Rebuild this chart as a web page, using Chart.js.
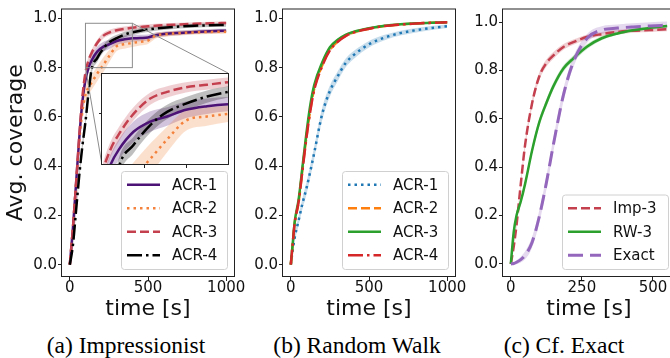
<!DOCTYPE html>
<html>
<head>
<meta charset="utf-8">
<script src="https://cdn.jsdelivr.net/npm/chart.js@4.4.1/dist/chart.umd.min.js"></script>
<style>
  body { margin: 0; background: #fff; }
  #page { position: relative; width: 670px; height: 358px; overflow: hidden; background: #fff; }
  canvas { position: absolute; }
  .caption { position: absolute; top: 333px; width: 240px; height: 24px; line-height: 24px; text-align: center;
             font-family: 'Liberation Serif', serif; font-size: 23.5px; color: #000; white-space: nowrap; }
</style>
</head>
<body>
<div id="page">
  <canvas id="impChart" width="250" height="322" style="left:0px;top:0px"></canvas>
  <canvas id="impInset" width="132" height="97" style="left:98px;top:72px"></canvas>
  <canvas id="rwChart" width="250" height="322" style="left:222px;top:0px"></canvas>
  <canvas id="cfChart" width="250" height="322" style="left:442px;top:0px"></canvas>
  <div class="caption" style="left:6px">(a) Impressionist</div>
  <div class="caption" style="left:237px">(b) Random Walk</div>
  <div class="caption" style="left:444px">(c) Cf. Exact</div>
</div>
<script>
Chart.defaults.font.family = 'DejaVu Sans';
Chart.defaults.color = '#111';

// (a) Impressionist
var impTime = [0, 20, 40, 60, 80, 100, 120, 140, 175, 215, 255, 300, 350, 400, 450, 500, 550, 600, 700, 800, 900, 1000];
var impAcr1 = [0, 0.15, 0.33, 0.51, 0.66, 0.75, 0.80, 0.83, 0.865, 0.885, 0.895, 0.908, 0.915, 0.919, 0.92, 0.922, 0.932, 0.936, 0.941, 0.945, 0.948, 0.95];
var impAcr1Sd = [0, 0.01, 0.015, 0.02, 0.02, 0.02, 0.02, 0.02, 0.02, 0.02, 0.018, 0.016, 0.015, 0.014, 0.013, 0.012, 0.011, 0.01, 0.01, 0.009, 0.009, 0.008];
var impAcr2 = [0, 0.15, 0.33, 0.50, 0.62, 0.69, 0.72, 0.74, 0.775, 0.812, 0.85, 0.887, 0.895, 0.90, 0.905, 0.91, 0.93, 0.935, 0.94, 0.943, 0.945, 0.946];
var impAcr2Sd = [0, 0.01, 0.015, 0.02, 0.025, 0.03, 0.03, 0.03, 0.03, 0.03, 0.025, 0.02, 0.018, 0.016, 0.015, 0.014, 0.012, 0.011, 0.01, 0.009, 0.009, 0.008];
var impAcr3 = [0, 0.15, 0.33, 0.52, 0.68, 0.78, 0.83, 0.86, 0.90, 0.93, 0.943, 0.952, 0.957, 0.962, 0.965, 0.968, 0.97, 0.972, 0.975, 0.978, 0.98, 0.981];
var impAcr3Sd = [0, 0.01, 0.012, 0.015, 0.015, 0.015, 0.015, 0.014, 0.013, 0.012, 0.011, 0.01, 0.01, 0.009, 0.009, 0.008, 0.008, 0.007, 0.007, 0.006, 0.006, 0.006];
var impAcr4 = [0, 0.08, 0.22, 0.36, 0.48, 0.58, 0.70, 0.795, 0.839, 0.878, 0.904, 0.92, 0.934, 0.943, 0.95, 0.955, 0.959, 0.962, 0.967, 0.97, 0.972, 0.973];
var impAcr4Sd = [0, 0.01, 0.015, 0.02, 0.02, 0.02, 0.02, 0.018, 0.016, 0.015, 0.014, 0.013, 0.012, 0.011, 0.01, 0.01, 0.009, 0.009, 0.008, 0.008, 0.007, 0.007];

// (b) Random Walk
var rwTime = [0, 10, 25, 50, 75, 100, 125, 150, 200, 250, 300, 350, 400, 500, 600, 700, 800, 900, 1000];
var rwAcr1 = [0, 0.05, 0.11, 0.18, 0.25, 0.31, 0.38, 0.455, 0.61, 0.705, 0.765, 0.818, 0.85, 0.895, 0.922, 0.94, 0.952, 0.961, 0.968];
var rwAcr1Sd = [0, 0.01, 0.015, 0.02, 0.022, 0.025, 0.025, 0.025, 0.025, 0.022, 0.02, 0.018, 0.016, 0.013, 0.011, 0.01, 0.009, 0.008, 0.007];
var rwAcr2 = [0, 0.07, 0.17, 0.255, 0.39, 0.52, 0.63, 0.715, 0.808, 0.872, 0.907, 0.929, 0.943, 0.958, 0.969, 0.975, 0.979, 0.982, 0.984];
var rwAcr2Sd = [0, 0.005, 0.008, 0.01, 0.01, 0.01, 0.01, 0.01, 0.009, 0.008, 0.007, 0.006, 0.006, 0.005, 0.004, 0.004, 0.003, 0.003, 0.003];
var rwAcr3 = [0, 0.07, 0.175, 0.265, 0.40, 0.535, 0.65, 0.73, 0.82, 0.883, 0.913, 0.933, 0.945, 0.96, 0.97, 0.976, 0.98, 0.982, 0.984];
var rwAcr3Sd = [0, 0.005, 0.008, 0.01, 0.01, 0.01, 0.01, 0.009, 0.008, 0.007, 0.006, 0.005, 0.005, 0.004, 0.004, 0.003, 0.003, 0.003, 0.003];
var rwAcr4 = [0, 0.07, 0.17, 0.255, 0.385, 0.515, 0.625, 0.71, 0.805, 0.87, 0.905, 0.928, 0.942, 0.958, 0.969, 0.975, 0.979, 0.982, 0.984];
var rwAcr4Sd = [0, 0.005, 0.008, 0.01, 0.011, 0.011, 0.011, 0.01, 0.009, 0.008, 0.007, 0.006, 0.006, 0.005, 0.004, 0.004, 0.003, 0.003, 0.003];

// (c) Cf. Exact
var cfTime = [0, 10, 20, 35, 50, 75, 100, 125, 150, 185, 220, 270, 320, 375, 430, 490, 550];
var cfImp3 = [0, 0.07, 0.16, 0.33, 0.49, 0.665, 0.775, 0.83, 0.862, 0.897, 0.917, 0.939, 0.95, 0.959, 0.964, 0.967, 0.97];
var cfImp3Sd = [0, 0.01, 0.012, 0.015, 0.016, 0.016, 0.016, 0.015, 0.014, 0.012, 0.011, 0.01, 0.009, 0.009, 0.008, 0.008, 0.008];
var cfRw3 = [0, 0.13, 0.2, 0.258, 0.33, 0.47, 0.585, 0.665, 0.735, 0.808, 0.85, 0.9, 0.933, 0.953, 0.966, 0.976, 0.984];
var cfRw3Sd = [0, 0.01, 0.012, 0.014, 0.015, 0.016, 0.016, 0.016, 0.015, 0.013, 0.012, 0.01, 0.008, 0.007, 0.006, 0.006, 0.005];
var cfExact = [0, 0.002, 0.007, 0.018, 0.035, 0.09, 0.195, 0.335, 0.495, 0.698, 0.835, 0.935, 0.967, 0.975, 0.98, 0.984, 0.987];
var cfExactSd = [0, 0.004, 0.008, 0.012, 0.016, 0.022, 0.026, 0.028, 0.028, 0.026, 0.022, 0.018, 0.016, 0.015, 0.015, 0.015, 0.015];

// ticks
var yTicks = [0, 0.2, 0.4, 0.6, 0.8, 1.0];
var longTicksX = [0, 500, 1000];
var cfTicksX = [0, 250, 500];
var insetRangeX = [100, 400];
var insetRangeY = [0.8, 0.98];
var insetTicksX = [200, 300];
var insetTicksY = [0.9];

// inset box on the page (px), used for the connector lines
var INSET = { left: 102, top: 73, right: 228, bottom: 165 };

var SOLID = [], DOTTED = [2.5, 4], DASHED = [9, 4], DASHDOT = [15, 4, 2.5, 4], LONGDASH = [15, 7];

function toRgba(hex, a) {
    var n = parseInt(hex.slice(1), 16);
    return 'rgba(' + (n >> 16) + ',' + ((n >> 8) & 255) + ',' + (n & 255) + ',' + a + ')';
}

function pts(time, vals, off, sign) {
    return time.map(function (t, i) { return { x: t, y: vals[i] + (off ? sign * off[i] : 0) }; });
}

// line + shaded band (upper fills to lower)
function series(label, time, mean, sd, color, dash, width, rank) {
    return [
        {
            label: label, data: pts(time, mean), borderColor: color, borderDash: dash, borderWidth: width,
            borderCapStyle: 'butt', pointRadius: 0, fill: false, cubicInterpolationMode: 'monotone', order: -rank,
        },
        {
            data: pts(time, mean, sd, 1), borderColor: 'transparent', borderWidth: 0, pointRadius: 0,
            fill: '+1', backgroundColor: toRgba(color, 0.25), cubicInterpolationMode: 'monotone', order: 50 - rank,
        },
        {
            data: pts(time, mean, sd, -1), borderColor: 'transparent', borderWidth: 0, pointRadius: 0,
            fill: false, cubicInterpolationMode: 'monotone', order: 50 - rank,
        },
    ];
}

var frame = {
    id: 'frame',
    afterDatasetsDraw: function (chart) {
        var a = chart.chartArea, ctx = chart.ctx;
        ctx.save();
        ctx.strokeStyle = '#222';
        ctx.lineWidth = 1;
        ctx.strokeRect(a.left - 0.5, a.top + 0.5, a.right - a.left + 1, a.bottom - a.top - 1);
        ctx.restore();
    }
};

var whiteArea = {
    id: 'whiteArea',
    beforeDraw: function (chart) {
        var a = chart.chartArea;
        chart.ctx.save();
        chart.ctx.fillStyle = '#fff';
        chart.ctx.fillRect(a.left, a.top, a.right - a.left, a.bottom - a.top);
        chart.ctx.restore();
    }
};

var boxLegend = {
    id: 'boxLegend',
    afterDraw: function (chart) {
        var items = chart.data.datasets.filter(function (d) { return d.label; });
        var a = chart.chartArea, ctx = chart.ctx;
        var w = 106, rowH = 23.5, h = items.length * rowH + 4;
        var right = a.right - 7, bottom = a.bottom - 8, left = right - w, top = bottom - h;
        ctx.save();
        ctx.beginPath();
        ctx.roundRect(left + 0.5, top + 0.5, w, h, 3);
        ctx.fillStyle = 'rgba(255,255,255,0.8)';
        ctx.fill();
        ctx.strokeStyle = '#d0d0d0';
        ctx.lineWidth = 1;
        ctx.stroke();
        items.forEach(function (d, i) {
            var y = top + 2 + rowH * (i + 0.5);
            ctx.beginPath();
            ctx.setLineDash(d.borderDash);
            ctx.lineCap = 'butt';
            ctx.strokeStyle = d.borderColor;
            ctx.lineWidth = d.borderWidth;
            ctx.moveTo(left + 6, y);
            ctx.lineTo(left + 39, y);
            ctx.stroke();
            ctx.setLineDash([]);
            ctx.fillStyle = '#111';
            ctx.font = '15px "DejaVu Sans"';
            ctx.textBaseline = 'middle';
            ctx.fillText(d.label, left + 51, y + 1);
        });
        ctx.restore();
    }
};

var zoomMark = {
    id: 'zoomMark',
    afterDatasetsDraw: function (chart) {
        var xs = chart.scales.x, ys = chart.scales.y, ctx = chart.ctx;
        var x1 = xs.getPixelForValue(insetRangeX[0]), x2 = xs.getPixelForValue(insetRangeX[1]);
        var yTop = ys.getPixelForValue(insetRangeY[1]), yBot = ys.getPixelForValue(insetRangeY[0]);
        ctx.save();
        ctx.strokeStyle = '#8c8c8c';
        ctx.lineWidth = 1;
        ctx.strokeRect(x1, yTop, x2 - x1, yBot - yTop);
        ctx.beginPath();
        ctx.moveTo(x2, yTop);
        ctx.lineTo(INSET.right, INSET.top);
        ctx.moveTo(x1, yBot);
        ctx.lineTo(INSET.left, INSET.bottom);
        ctx.stroke();
        ctx.restore();
    }
};

function scales(xMin, xMax, xTicks, yTitle) {
    return {
        x: {
            type: 'linear', min: xMin, max: xMax,
            afterBuildTicks: function (s) { s.ticks = xTicks.map(function (v) { return { value: v }; }); },
            afterFit: function (s) { s.height = 45; },
            grid: { drawOnChartArea: false, tickLength: 4, color: '#222', tickColor: '#222' },
            border: { display: false },
            ticks: {
                padding: 0, maxRotation: 0, autoSkip: false, font: { size: 15, lineHeight: 1 }, color: '#111',
                callback: function (v) { return String(v); },
            },
            title: { display: true, text: 'time [s]', font: { size: 22, lineHeight: 1.2 }, padding: 0, color: '#111' },
        },
        y: {
            min: -0.05, max: 1.04,
            afterBuildTicks: function (s) { s.ticks = yTicks.map(function (v) { return { value: v }; }); },
            afterFit: function (s) { s.width = yTitle ? 62 : 61; },
            grid: { drawOnChartArea: false, tickLength: 4, color: '#222', tickColor: '#222' },
            border: { display: false },
            ticks: {
                padding: 1, autoSkip: false, font: { size: 15, lineHeight: 1 }, color: '#111',
                callback: function (v) { return v.toFixed(1); },
            },
            title: {
                display: !!yTitle, text: yTitle, font: { size: 22, lineHeight: 1.2 },
                padding: { top: 3, bottom: 0 }, color: '#111',
            },
        },
    };
}

var baseOptions = function (sc) {
    return {
        responsive: false, animation: false, devicePixelRatio: 1, events: [],
        layout: { padding: { left: 0, top: 8, right: 16, bottom: 0 } },
        plugins: { legend: { display: false }, tooltip: { enabled: false } },
        scales: sc,
    };
};

var impSets = [].concat(
    series('ACR-1', impTime, impAcr1, impAcr1Sd, '#4c1275', SOLID, 2.5, 0),
    series('ACR-2', impTime, impAcr2, impAcr2Sd, '#f4823c', DOTTED, 2.5, 1),
    series('ACR-3', impTime, impAcr3, impAcr3Sd, '#c4404f', DASHED, 2.5, 2),
    series('ACR-4', impTime, impAcr4, impAcr4Sd, '#000000', DASHDOT, 2.5, 3)
);

new Chart(document.getElementById('impChart'), {
    type: 'line',
    data: { datasets: impSets },
    options: baseOptions(scales(-50, 1050, longTicksX, 'Avg. coverage')),
    plugins: [frame, zoomMark, boxLegend],
});

// inset: same curves, zoomed window
var insetSets = [].concat(
    series(null, impTime, impAcr1, impAcr1Sd, '#4c1275', SOLID, 2.5, 0),
    series(null, impTime, impAcr2, impAcr2Sd, '#f4823c', DOTTED, 2.5, 1),
    series(null, impTime, impAcr3, impAcr3Sd, '#c4404f', DASHED, 2.5, 2),
    series(null, impTime, impAcr4, impAcr4Sd, '#000000', DASHDOT, 2.5, 3)
);

new Chart(document.getElementById('impInset'), {
    type: 'line',
    data: { datasets: insetSets },
    options: {
        responsive: false, animation: false, devicePixelRatio: 1, events: [],
        layout: { padding: { left: 0, top: 1, right: 2, bottom: 0 } },
        plugins: { legend: { display: false }, tooltip: { enabled: false } },
        scales: {
            x: {
                type: 'linear', min: insetRangeX[0], max: insetRangeX[1],
                afterBuildTicks: function (s) { s.ticks = insetTicksX.map(function (v) { return { value: v }; }); },
                afterFit: function (s) { s.height = 4; },
                grid: { drawOnChartArea: false, tickLength: 3, color: '#222', tickColor: '#222' },
                border: { display: false },
                ticks: { display: false },
            },
            y: {
                min: insetRangeY[0], max: insetRangeY[1],
                afterBuildTicks: function (s) { s.ticks = insetTicksY.map(function (v) { return { value: v }; }); },
                afterFit: function (s) { s.width = 4; },
                grid: { drawOnChartArea: false, tickLength: 3, color: '#222', tickColor: '#222' },
                border: { display: false },
                ticks: { display: false },
            },
        },
    },
    plugins: [whiteArea, frame],
});

new Chart(document.getElementById('rwChart'), {
    type: 'line',
    data: {
        datasets: [].concat(
            series('ACR-1', rwTime, rwAcr1, rwAcr1Sd, '#1f77b4', DOTTED, 2.5, 0),
            series('ACR-2', rwTime, rwAcr2, rwAcr2Sd, '#ff7f0e', DASHED, 2.5, 1),
            series('ACR-3', rwTime, rwAcr3, rwAcr3Sd, '#2ca02c', SOLID, 2.5, 2),
            series('ACR-4', rwTime, rwAcr4, rwAcr4Sd, '#d62728', DASHDOT, 2.5, 3)
        )
    },
    options: (function () { var o = baseOptions(scales(-50, 1050, longTicksX, null)); o.layout.padding.right = 17; return o; })(),
    plugins: [frame, boxLegend],
});

new Chart(document.getElementById('cfChart'), {
    type: 'line',
    data: {
        datasets: [].concat(
            series('Imp-3', cfTime, cfImp3, cfImp3Sd, '#c4404f', DASHED, 2.5, 0),
            series('RW-3', cfTime, cfRw3, cfRw3Sd, '#2ca02c', SOLID, 2.5, 1),
            series('Exact', cfTime, cfExact, cfExactSd, '#9467bd', LONGDASH, 3, 2)
        )
    },
    options: (function () {
        var o = baseOptions(scales(-27.5, 577.5, cfTicksX, null));
        o.layout.padding.right = 17;
        o.scales.y.min = -0.054;
        o.scales.y.max = 1.056;
        return o;
    })(),
    plugins: [frame, boxLegend],
});
</script>
</body>
</html>
